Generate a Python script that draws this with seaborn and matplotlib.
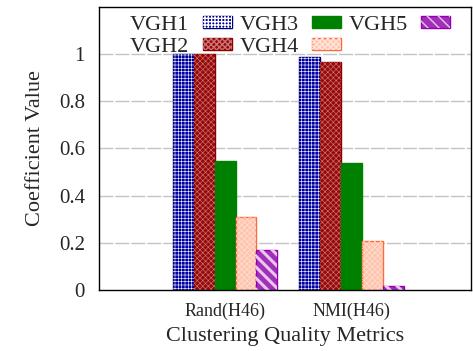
import matplotlib
matplotlib.use("Agg")
import matplotlib.pyplot as plt
from matplotlib.patches import Patch
from matplotlib.legend_handler import HandlerTuple
import pandas as pd
import seaborn as sns

# data
metrics = ["Rand(H46)", "NMI(H46)"]
series = ["VGH1", "VGH2", "VGH3", "VGH4", "VGH5"]
vgh1 = [1.00, 0.986]
vgh2 = [1.00, 0.966]
vgh3 = [0.548, 0.538]
vgh4 = [0.308, 0.206]
vgh5 = [0.170, 0.016]
yticks = [0, 0.2, 0.4, 0.6, 0.8, 1.0]
ytick_labels = ["0", "0.2", "0.4", "0.6", "0.8", "1"]

# gnuplot-ish fill styles: face, edge, hatch, hatch colour, hatch width
styles = [
    ("#0000A0", "#00007A", "+++++", "#FFFFFF", 0.4),
    ("#980808", "#8B0000", "xxxxxx", "#C87474", 0.45),
    ("#008000", "#008000", None, None, 0),
    ("#FFC4AE", "#FF6A3A", "xxxxxx", "#FFE4DA", 0.4),
    ("#A030B8", "#9400B0", "\\\\\\", "#EBC6EF", 2.2),
]


def hatched(xy, w, h, hatch, color, lw, z=None):
    p = plt.Rectangle(xy, w, h, facecolor="none", edgecolor=color, hatch=hatch, linewidth=0)
    if hasattr(p, "set_hatch_linewidth"):
        p.set_hatch_linewidth(lw)
    else:
        p._hatch_linewidth = lw
    if z is not None:
        p.set_zorder(z)
    return p


rows = []
for name, vals in zip(series, [vgh1, vgh2, vgh3, vgh4, vgh5]):
    for m, v in zip(metrics, vals):
        rows.append({"metric": m, "series": name, "value": v})
df = pd.DataFrame(rows)

sns.set_style("white")
plt.rcParams["font.family"] = ["Liberation Serif", "DejaVu Serif"]

fig = plt.figure(figsize=(4.73, 3.51), dpi=100)
ax = fig.add_axes([0.209, 0.174, 0.787, 0.806])

sns.barplot(data=df, x="metric", y="value", hue="series", order=metrics,
            hue_order=series, palette=[s[0] for s in styles], width=0.83,
            saturation=1, errorbar=None, legend=False, ax=ax)

handles = []
for cont, (face, edge, hatch, hcol, hlw) in zip(ax.containers, styles):
    for bar in cont:
        bar.set_edgecolor(edge)
        bar.set_linewidth(1.0)
        if hatch:
            ax.add_patch(hatched(bar.get_xy(), bar.get_width(), bar.get_height(),
                                 hatch, hcol, hlw, bar.get_zorder() + 0.1))
    base = Patch(facecolor=face, edgecolor=edge, linewidth=1.0)
    if hatch:
        handles.append((base, hatched((0, 0), 1, 1, hatch, hcol, hlw)))
    else:
        handles.append(base)

ax.set_xlim(-1, 1.95)
ax.set_ylim(0, 1.2)
ax.set_yticks(yticks)
ax.set_yticklabels(ytick_labels)
for y in yticks[1:]:
    ax.axhline(y, color="#C4C4C4", lw=1.0, ls=(0, (10, 1.5)), zorder=0)

ax.tick_params(axis="y", labelsize=15, direction="in", length=0, pad=10)
ax.tick_params(axis="x", labelsize=13, length=0, pad=9)
ax.set_xlabel("Clustering Quality Metrics", fontsize=16, labelpad=5)
ax.set_ylabel("Coefficient Value", fontsize=16, labelpad=10)
for sp in ax.spines.values():
    sp.set_visible(True)
    sp.set_color("black")
    sp.set_linewidth(1.0)

leg = ax.legend(handles, series, handler_map={tuple: HandlerTuple(ndivide=1, pad=0)},
                ncol=3, loc="upper left", bbox_to_anchor=(0.06, 1.0), frameon=False,
                markerfirst=False, fontsize=16, handlelength=1.3, handleheight=0.45,
                handletextpad=0.6, columnspacing=0.35, labelspacing=0.12,
                borderaxespad=0.0)

fig.savefig("out.png", dpi=100)
